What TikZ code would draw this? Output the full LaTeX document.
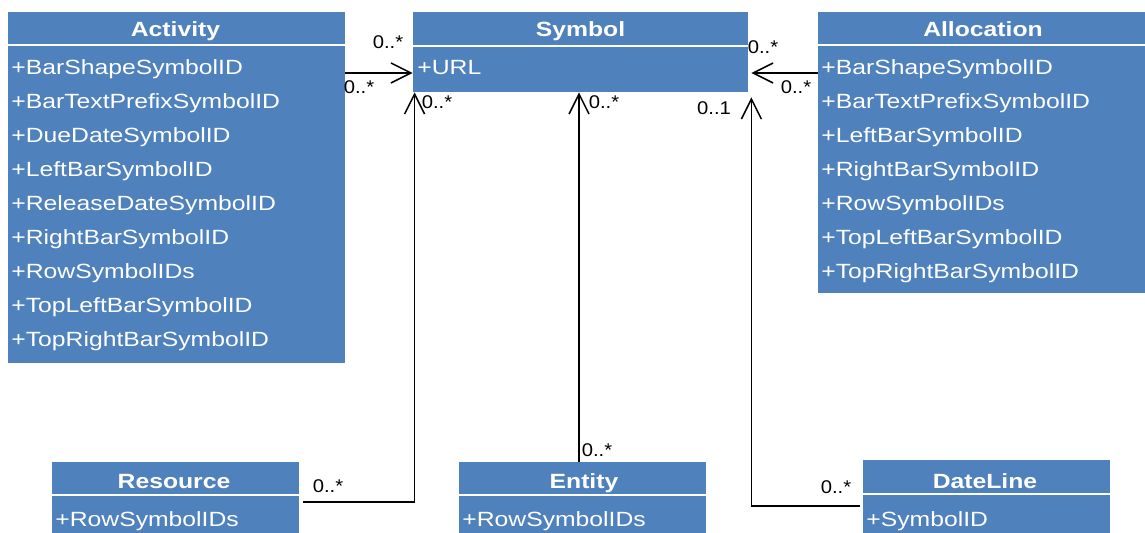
\documentclass[tikz,border=0pt]{standalone}
\usepackage{fontspec}
\setmainfont{Liberation Sans}[FakeStretch=1.2]
\newfontfamily\lblfont{Liberation Sans}[FakeStretch=1.1]
\usetikzlibrary{fit,arrows.meta,calc}
\definecolor{umlblue}{HTML}{4F81BD}
\begin{document}
\begin{tikzpicture}[x=0.5pt,y=-0.5pt,
  cls/.style={fill=umlblue, inner sep=0pt, draw=none},
  attr/.style={anchor=base west, inner sep=0pt, text=white, font=\fontsize{10.3}{12}\selectfont},
  hdr/.style={anchor=base, inner sep=0pt, text=white, font=\fontsize{10.3}{12}\selectfont\bfseries},
  mult/.style={inner sep=0pt, font=\lblfont\fontsize{9.2}{11}\selectfont},
  assoc/.style={draw=black, line width=0.75pt, -{Straight Barb[length=10pt,width=10pt,line width=0.75pt]}},
  divider/.style={draw=white, line width=0.9pt}]
\useasboundingbox (0,0) rectangle (1145,533);
\clip (0,0) rectangle (1145,533);

% helper coordinates
\coordinate (y73) at (0,73);
\coordinate (y502) at (0,502);
\coordinate (y506) at (0,506);

% Activity
\node[cls, fit={(8,12) (345,363)}] (act) {};
\draw[divider] (act.west |- 0,45) -- (act.east |- 0,45);
\node[hdr] (acth) at (175.5,37) {Activity};
\foreach \t [count=\i] in {+BarShapeSymbolID,+BarTextPrefixSymbolID,+DueDateSymbolID,+LeftBarSymbolID,+ReleaseDateSymbolID,+RightBarSymbolID,+RowSymbolIDs,+TopLeftBarSymbolID,+TopRightBarSymbolID}
  \node[attr] (acta\i) at (11,{75+33.9*(\i-1)}) {\t};

% Symbol
\node[cls, fit={(413,12) (748,92)}] (sym) {};
\draw[divider] (sym.west |- 0,46) -- (sym.east |- 0,46);
\node[hdr] (symh) at (580.5,37) {Symbol};
\node[attr] (syma1) at (417,75) {+URL};

% Allocation
\node[cls, fit={(818,12) (1150,293)}] (alloc) {};
\draw[divider] (alloc.west |- 0,45) -- (alloc.east |- 0,45);
\node[hdr] (alloch) at (983,37) {Allocation};
\foreach \t [count=\i] in {+BarShapeSymbolID,+BarTextPrefixSymbolID,+LeftBarSymbolID,+RightBarSymbolID,+RowSymbolIDs,+TopLeftBarSymbolID,+TopRightBarSymbolID}
  \node[attr] (alloca\i) at (821,{75+33.9*(\i-1)}) {\t};

% Resource
\node[cls, fit={(52,462) (299,545)}] (res) {};
\draw[divider] (res.west |- 0,495) -- (res.east |- 0,495);
\node[hdr] (resh) at (174,488) {Resource};
\node[attr] (resa1) at (55,526) {+RowSymbolIDs};

% Entity
\node[cls, fit={(459,462) (706,545)}] (ent) {};
\draw[divider] (ent.west |- 0,495) -- (ent.east |- 0,495);
\node[hdr] (enth) at (584,488) {Entity};
\node[attr] (enta1) at (462,526) {+RowSymbolIDs};

% DateLine
\node[cls, fit={(863,460) (1110,545)}] (dl) {};
\draw[divider] (dl.west |- 0,494) -- (dl.east |- 0,494);
\node[hdr] (dlh) at (985,488) {DateLine};
\node[attr] (dla1) at (866,526) {+SymbolID};

% Connectors
\draw[assoc] (act.east |- y73) -- (sym.west |- y73);
\draw[assoc] (alloc.west |- y73) -- ($(sym.east |- y73)+(3,0)$);
\draw[assoc] ($(res.east |- y502)+(4,0)$) -| ($(sym.south west)+(2,0)$);
\coordinate (e0) at ($(ent.north)+(-3.5,0)$);
\draw[assoc] (e0) -- (e0 |- sym.south);
\draw[assoc] ($(dl.west |- y506)+(-3,0)$) -| ($(sym.south east)+(3,5)$);

% Multiplicities
\node[mult] (m1) at (388,42) {0..*};
\node[mult] (m2) at (359,87) {0..*};
\node[mult] (m3) at (763,47) {0..*};
\node[mult] (m4) at (796,87) {0..*};
\node[mult] (m5) at (437,102) {0..*};
\node[mult] (m6) at (604,102) {0..*};
\node[mult] (m7) at (714,108) {0..1};
\node[mult] (m8) at (328,486) {0..*};
\node[mult] (m9) at (597,450) {0..*};
\node[mult] (m10) at (836,487) {0..*};
\end{tikzpicture}
\end{document}
